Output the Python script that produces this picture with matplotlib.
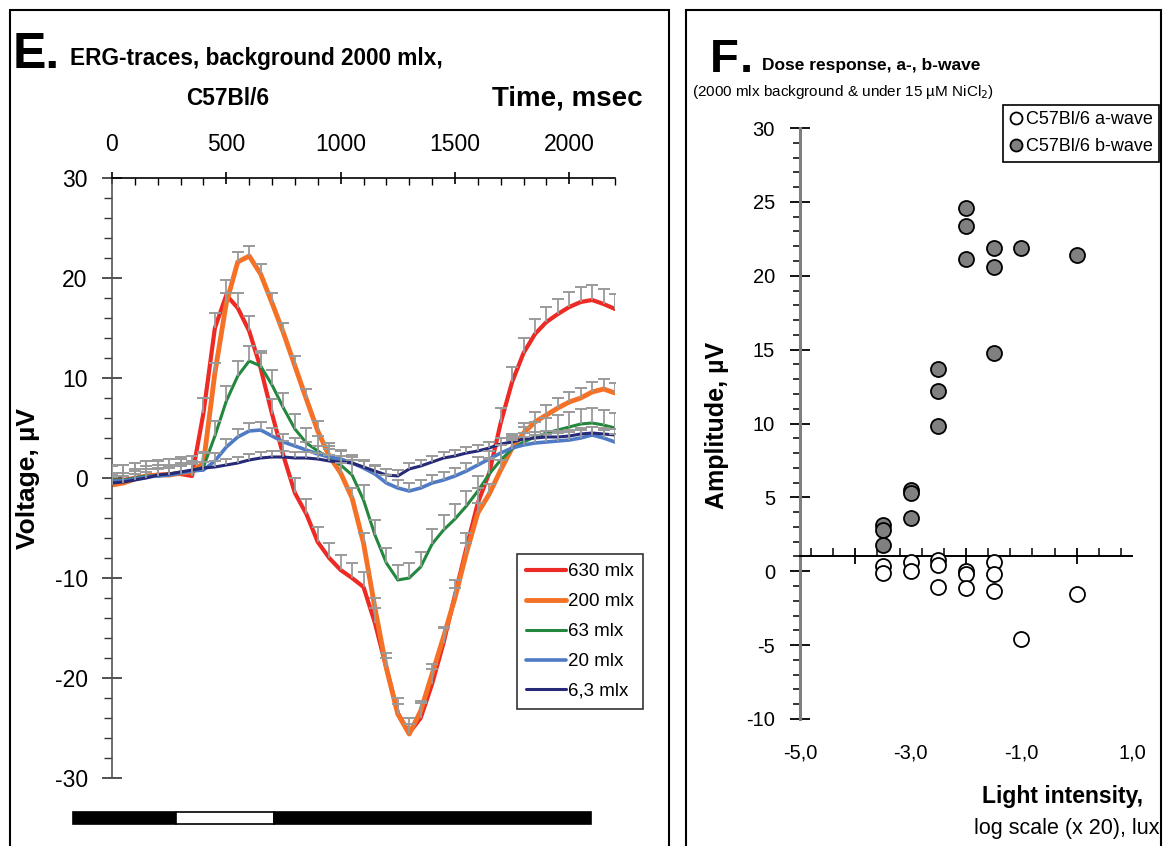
import numpy as np
import matplotlib
matplotlib.use('Agg')
import matplotlib.pyplot as plt
import matplotlib.transforms as mtransforms
from matplotlib.patches import Rectangle
from matplotlib.ticker import MultipleLocator

plt.rcParams['font.family'] = ['Liberation Sans', 'DejaVu Sans']
plt.rcParams['axes.unicode_minus'] = False

# ---- panel E: ERG traces (every 50 ms) ----
time_ms = np.arange(0, 2201, 50)

v630 = [-0.3, -0.2, 0.0, 0.2, 0.3, 0.4, 0.4, 0.2, 6.5, 15.0, 18.3, 17.0, 14.7, 11.0, 6.4,
        2.2, -1.5, -3.6, -6.4, -8.0, -9.2, -10.0, -10.9, -14.5, -19.0, -23.5, -25.5, -24.0,
        -20.6, -16.5, -11.7, -7.0, -2.5, 0.5, 5.5, 9.6, 12.5, 14.4, 15.6, 16.4, 17.1, 17.6,
        17.8, 17.4, 16.9]
v200 = [-0.7, -0.5, -0.1, 0.2, 0.3, 0.3, 0.5, 0.6, 1.5, 10.5, 17.5, 21.6, 22.2, 20.4, 17.5,
        14.5, 11.2, 7.9, 4.7, 2.2, 0.5, -2.0, -6.5, -13.0, -19.0, -23.6, -25.6, -23.3,
        -19.6, -15.9, -12.0, -7.5, -3.5, -1.6, 0.8, 3.0, 4.5, 5.6, 6.3, 7.0, 7.6, 8.0,
        8.6, 8.9, 8.5]
v63 = [-0.2, -0.2, 0.0, 0.2, 0.2, 0.4, 0.6, 0.7, 1.1, 4.2, 7.7, 10.2, 11.7, 11.2, 9.3,
       7.0, 4.9, 3.5, 2.7, 2.0, 1.3, 0.3, -2.2, -5.7, -8.5, -10.2, -10.0, -8.9,
       -6.6, -5.2, -4.1, -2.8, -1.3, 0.4, 1.8, 2.9, 3.6, 4.1, 4.5, 4.8, 5.1, 5.4,
       5.5, 5.3, 5.0]
v20 = [-0.3, -0.3, -0.1, 0.1, 0.2, 0.3, 0.5, 0.7, 0.8, 1.7, 3.1, 4.1, 4.7, 4.8, 4.2,
       3.6, 3.2, 2.8, 2.4, 2.1, 1.9, 1.5, 1.0, 0.4, -0.5, -1.0, -1.3, -1.0,
       -0.5, -0.2, 0.2, 0.7, 1.3, 1.9, 2.5, 3.0, 3.3, 3.5, 3.6, 3.7, 3.8, 4.0,
       4.3, 4.0, 3.6]
v6_3 = [-0.5, -0.4, -0.2, 0.0, 0.3, 0.4, 0.6, 0.8, 1.0, 1.1, 1.3, 1.5, 1.8, 2.0, 2.1,
        2.1, 2.0, 2.0, 1.9, 1.7, 1.6, 1.5, 1.1, 0.7, 0.3, 0.2, 0.9, 1.2,
        1.6, 2.0, 2.2, 2.5, 2.7, 3.0, 3.4, 3.6, 3.9, 4.0, 4.1, 4.1, 4.2, 4.4,
        4.5, 4.4, 4.3]

trace_labels = ['630 mlx', '200 mlx', '63 mlx', '20 mlx', '6,3 mlx']
trace_values = [v630, v200, v63, v20, v6_3]
trace_sem = [1.5, 1.0, 1.5, 0.8, 0.6]   # plus-only error bars
trace_colors = ['#EE2A24', '#F47126', '#23873D', '#4F7BC6', '#262A78']
trace_widths = [3.0, 3.5, 2.2, 2.6, 2.2]

# light stimulus bar (ms): dark | light | dark
stim_edges = [-170, 280, 710, 2095]

# ---- panel F: dose response ----
a_x = [-3.5, -3.5, -3.0, -3.0, -2.5, -2.5, -2.5, -2.0, -2.0, -2.0, -1.5, -1.5, -1.5, -1.0, 0.0]
a_y = [0.35, -0.15, 0.6, 0.0, 0.75, 0.4, -1.05, 0.05, -0.2, -1.15, 0.6, -0.2, -1.35, -4.6, -1.55]
b_x = [-3.5, -3.5, -3.5, -3.0, -3.0, -3.0, -2.5, -2.5, -2.5, -2.0, -2.0, -2.0,
       -1.5, -1.5, -1.5, -1.0, 0.0]
b_y = [3.1, 2.8, 1.75, 5.5, 5.3, 3.6, 13.7, 12.2, 9.8, 24.6, 23.4, 21.1,
       21.85, 20.6, 14.8, 21.85, 21.4]
f_xticks = [-5.0, -3.0, -1.0, 1.0]

W, H = 1166, 846
fig = plt.figure(figsize=(W / 100, H / 100), dpi=100)


def fx(px):
    return px / W


def fy(py):
    return 1 - py / H


# panel frames
for x0, x1 in [(10, 669), (686, 1161)]:
    fig.patches.append(Rectangle((fx(x0), fy(850)), fx(x1) - fx(x0), fy(10) - fy(850),
                                 transform=fig.transFigure, fill=False,
                                 edgecolor='black', linewidth=1.5))

# ================= panel E =================
ax = fig.add_axes([fx(112), fy(778), fx(615) - fx(112), fy(178) - fy(778)])
ax.set_xlim(0, 2200)
ax.set_ylim(-30, 30)

for vals, err, col, lw, lab in zip(trace_values, trace_sem, trace_colors,
                                   trace_widths, trace_labels):
    vals = np.array(vals)
    ax.plot(time_ms, vals, color=col, lw=lw, label=lab, zorder=2,
            solid_capstyle='round')
    ax.vlines(time_ms, vals, vals + err, color='#9A9A9A', lw=1.3, zorder=3)
    ax.plot(time_ms, vals + err, linestyle='none', marker='_', ms=9, mew=1.4,
            color='#9A9A9A', zorder=3)

for s in ['right', 'bottom']:
    ax.spines[s].set_visible(False)
ax.spines['left'].set_color('#555555')
ax.spines['left'].set_linewidth(1.2)
ax.spines['top'].set_linewidth(1.2)
ax.xaxis.tick_top()
ax.xaxis.set_major_locator(MultipleLocator(500))
ax.xaxis.set_minor_locator(MultipleLocator(100))
ax.yaxis.set_major_locator(MultipleLocator(10))
ax.yaxis.set_minor_locator(MultipleLocator(2))
ax.tick_params(axis='x', which='major', direction='inout', length=9, width=1.2,
               labelsize=16.5, pad=11)
ax.tick_params(axis='x', which='minor', direction='in', length=5, width=1)
ax.tick_params(axis='y', which='major', direction='inout', length=15, width=1.2,
               labelsize=16.5, pad=10, color='#333333')
ax.tick_params(axis='y', which='minor', direction='out', length=6, width=1,
               color='#333333')
ax.patch.set_visible(False)

leg = ax.legend(loc='upper left', bbox_to_anchor=(fx(517), fy(554)),
                bbox_transform=fig.transFigure, fontsize=13.5, frameon=True,
                fancybox=False, edgecolor='black', handlelength=2.1,
                handletextpad=0.1, labelspacing=0.68, borderpad=0.5,
                borderaxespad=0)
leg.get_frame().set_linewidth(1.2)

# stimulus bar
bt = mtransforms.blended_transform_factory(ax.transData, fig.transFigure)
for i in range(len(stim_edges) - 1):
    face = 'white' if i == 1 else 'black'
    ax.add_patch(Rectangle((stim_edges[i], fy(824)), stim_edges[i + 1] - stim_edges[i],
                           fy(812) - fy(824), transform=bt, clip_on=False,
                           facecolor=face, edgecolor='black', linewidth=1.2))

fig.text(fx(13), fy(68), 'E.', fontsize=36, fontweight='bold', va='baseline')
fig.text(fx(70), fy(65), 'ERG-traces, background 2000 mlx,', fontsize=16.3,
         fontweight='bold', va='baseline')
fig.text(fx(228), fy(105), 'C57Bl/6', fontsize=16.3, fontweight='bold',
         va='baseline', ha='center')
fig.text(fx(643), fy(106), 'Time, msec', fontsize=20, fontweight='bold',
         va='baseline', ha='right')
fig.text(fx(28), fy(478), 'Voltage, \u00b5V', fontsize=19, fontweight='bold',
         rotation=90, ha='center', va='center')

# ================= panel F =================
bx = fig.add_axes([fx(800), fy(719), fx(1132) - fx(800), fy(128) - fy(719)])
bx.set_xlim(-5, 1)
bx.set_ylim(-10, 30)
bx.plot(a_x, a_y, 'o', ms=10.8, mfc='white', mec='black', mew=1.3,
        label='C57Bl/6 a-wave', clip_on=False, zorder=3)
bx.plot(b_x, b_y, 'o', ms=10.8, mfc='#808080', mec='black', mew=1.3,
        label='C57Bl/6 b-wave', clip_on=False, zorder=3)

for s in ['right', 'top']:
    bx.spines[s].set_visible(False)
bx.spines['bottom'].set_position(('data', 1))
bx.spines['bottom'].set_linewidth(1.4)
bx.spines['left'].set_color('#7F7F7F')
bx.spines['left'].set_linewidth(2.2)
bx.xaxis.set_major_locator(MultipleLocator(2))
bx.xaxis.set_minor_locator(MultipleLocator(0.4))
bx.yaxis.set_major_locator(MultipleLocator(5))
bx.yaxis.set_minor_locator(MultipleLocator(1))
bx.tick_params(axis='x', which='major', direction='inout', length=12, width=1.3,
               labelbottom=False)
bx.tick_params(axis='x', which='minor', direction='in', length=6, width=1.1)
bx.tick_params(axis='y', which='major', direction='inout', length=14, width=1.3,
               labelsize=14.5, pad=11)
bx.tick_params(axis='y', which='minor', direction='out', length=5, width=1.1)
bx.patch.set_visible(False)

xt = bx.get_xaxis_transform()
for v in f_xticks:
    bx.text(v, -0.058, '{:.1f}'.format(v).replace('.', ','), transform=xt,
            ha='center', va='center', fontsize=14.5)

leg2 = bx.legend(loc='upper left', bbox_to_anchor=(fx(1003), fy(105)),
                 bbox_transform=fig.transFigure, fontsize=13, frameon=True,
                 fancybox=False, edgecolor='black', handlelength=0.7,
                 handletextpad=0.2, labelspacing=0.55, borderpad=0.35,
                 markerscale=0.8, framealpha=1, borderaxespad=0)
leg2.get_frame().set_linewidth(1.2)

fig.text(fx(710), fy(72), 'F', fontsize=34, fontweight='bold', va='baseline')
fig.text(fx(740), fy(72), '.', fontsize=34, fontweight='bold', va='baseline')
fig.text(fx(762), fy(70), 'Dose response, a-, b-wave', fontsize=12.5, fontweight='bold',
         va='baseline')
fig.text(fx(692), fy(96), '(2000 mlx background & under 15 \u00b5M NiCl$_2$)',
         fontsize=11, va='baseline')
fig.text(fx(717), fy(425), 'Amplitude, \u00b5V', fontsize=18, fontweight='bold',
         rotation=90, ha='center', va='center')
fig.text(fx(1143), fy(803), 'Light intensity,', fontsize=16.5, fontweight='bold',
         ha='right', va='baseline')
fig.text(fx(1160), fy(834), 'log scale (x 20), lux', fontsize=15.5,
         ha='right', va='baseline')

fig.savefig('out.png', dpi=100)
